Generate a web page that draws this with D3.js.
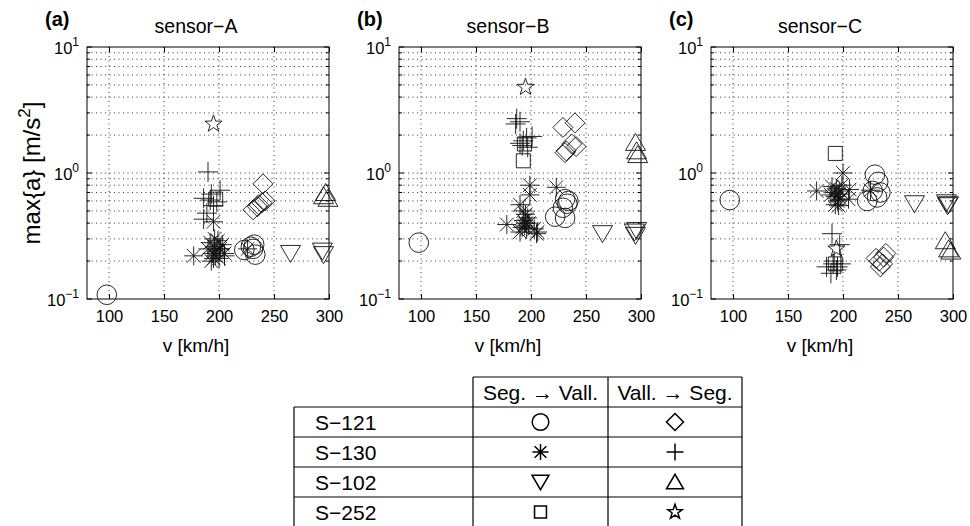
<!DOCTYPE html>
<html>
<head>
<meta charset="utf-8">
<script src="https://cdn.jsdelivr.net/npm/d3@7"></script>
<style>
  body { margin: 0; background: #fff; }
  text { font-family: "Liberation Sans", Arial, Helvetica, sans-serif; fill: #000; }
</style>
</head>
<body>
<svg id="fig" width="970" height="526"></svg>
<script>
// ---- axis settings ----
const speedDomain = [80, 300];
const speedTicks = [100, 150, 200, 250, 300];
const accelDomain = [0.1, 10];
const accelDecades = [0.1, 1, 10];
const accelExponents = ["−1", "0", "1"];

const sensorNames = ["sensor−A", "sensor−B", "sensor−C"];
const panelTags = ["(a)", "(b)", "(c)"];
const trainNames = ["S−121", "S−130", "S−102", "S−252"];
const directionNames = ["Seg. → Vall.", "Vall. → Seg."];
const segToVallShapes = ["circle", "asterisk", "triangleDown", "square"];
const vallToSegShapes = ["diamond", "plus", "triangleUp", "star"];

// ---- measurements: [speed km/h, max acceleration m/s^2] ----
// sensor-A
const aS121sv = [[98,0.108],[223,0.245],[229,0.26],[231,0.25],[233,0.225],[232,0.27]];
const aS130sv = [[177,0.22],[195,0.41],[190,0.25],[192,0.28],[194,0.23],[195,0.21],[196,0.26],[197,0.22],[198,0.24],[199,0.29],[200,0.21],[201,0.25],[203,0.27],[205,0.23],[193,0.2],[226,0.25],[196,0.3]];
const aS102sv = [[265,0.23],[294,0.24],[295,0.225]];
const aS252sv = [[197,0.62]];
const aS121vs = [[240,0.82],[239,0.58],[235,0.54],[231,0.51],[242,0.6],[236,0.56]];
const aS130vs = [[190,1.02],[186,0.63],[192,0.61],[201,0.73],[198,0.59],[189,0.48],[186,0.43],[195,0.55],[193,0.68],[201,0.25],[205,0.22]];
const aS102vs = [[295,0.66],[297,0.7],[299,0.63]];
const aS252vs = [[195,2.45]];
// sensor-B
const bS121sv = [[98,0.28],[222,0.45],[231,0.44],[231,0.62],[233,0.57],[229,0.53],[234,0.6]];
const bS130sv = [[178,0.39],[190,0.34],[190,0.56],[193,0.42],[194,0.38],[195,0.4],[196,0.36],[197,0.44],[192,0.37],[198,0.4],[199,0.67],[199,0.8],[203,0.36],[205,0.33],[206,0.34],[223,0.77],[195,0.47],[193,0.5]];
const bS102sv = [[265,0.33],[294,0.34],[296,0.35],[295,0.32]];
const bS252sv = [[193,1.25],[194,1.7]];
const bS121vs = [[229,2.3],[240,2.5],[232,1.5],[237,1.7],[241,1.62],[231,1.45]];
const bS130vs = [[187,2.7],[186,2.45],[196,1.9],[201,1.95],[190,1.72],[193,1.8],[192,1.65],[197,1.6],[190,2.55]];
const bS102vs = [[295,1.75],[296,1.5],[297,1.4]];
const bS252vs = [[195,4.8]];
// sensor-C
const cS121sv = [[97,0.61],[222,0.6],[229,0.97],[232,0.85],[234,0.7],[231,0.64],[227,0.72]];
const cS130sv = [[176,0.72],[200,1.0],[190,0.78],[192,0.7],[193,0.65],[194,0.75],[195,0.6],[196,0.68],[197,0.72],[198,0.62],[199,0.8],[193,0.56],[205,0.62],[206,0.74],[196,0.55],[225,0.73],[189,0.67]];
const cS102sv = [[265,0.57],[294,0.58],[295,0.55],[296,0.56]];
const cS252sv = [[193,1.43],[193,0.19]];
const cS121vs = [[230,0.21],[239,0.23],[234,0.18],[233,0.2],[237,0.215],[236,0.19]];
const cS130vs = [[190,0.33],[197,0.27],[185,0.18],[191,0.19],[194,0.17],[198,0.19],[189,0.16],[192,0.2],[195,0.18]];
const cS102vs = [[293,0.29],[296,0.25],[298,0.24]];
const cS252vs = [[194,0.25]];

const sensorSeries = [
  { sv: [aS121sv, aS130sv, aS102sv, aS252sv], vs: [aS121vs, aS130vs, aS102vs, aS252vs] },
  { sv: [bS121sv, bS130sv, bS102sv, bS252sv], vs: [bS121vs, bS130vs, bS102vs, bS252vs] },
  { sv: [cS121sv, cS130sv, cS102sv, cS252sv], vs: [cS121vs, cS130vs, cS102vs, cS252vs] }
];

// ---- marker outlines (MATLAB-like) ----
function markerPath(shape, k) {
  const p = d3.path();
  if (shape === "circle") {
    const r = 9.8 * k; p.moveTo(r, 0); p.arc(0, 0, r, 0, 2 * Math.PI);
  } else if (shape === "asterisk") {
    const r = 9.5 * k, d = r * 0.72;
    p.moveTo(-r, 0); p.lineTo(r, 0); p.moveTo(0, -r); p.lineTo(0, r);
    p.moveTo(-d, -d); p.lineTo(d, d); p.moveTo(-d, d); p.lineTo(d, -d);
  } else if (shape === "plus") {
    const r = 10 * k; p.moveTo(-r, 0); p.lineTo(r, 0); p.moveTo(0, -r); p.lineTo(0, r);
  } else if (shape === "diamond") {
    const r = 10 * k; p.moveTo(0, -r); p.lineTo(r, 0); p.lineTo(0, r); p.lineTo(-r, 0); p.closePath();
  } else if (shape === "triangleDown") {
    const w = 10 * k; p.moveTo(-w, -8 * k); p.lineTo(w, -8 * k); p.lineTo(0, 9 * k); p.closePath();
  } else if (shape === "triangleUp") {
    const w = 10 * k; p.moveTo(-w, 8 * k); p.lineTo(w, 8 * k); p.lineTo(0, -9 * k); p.closePath();
  } else if (shape === "square") {
    const r = 7 * k; p.rect(-r, -r, 2 * r, 2 * r);
  } else if (shape === "star") {
    const R = 9 * k, r = R * 0.40;
    for (let i = 0; i < 10; i++) {
      const a = -Math.PI / 2 + i * Math.PI / 5, rr = i % 2 ? r : R;
      const px = rr * Math.cos(a), py = rr * Math.sin(a);
      if (i === 0) p.moveTo(px, py); else p.lineTo(px, py);
    }
    p.closePath();
  }
  return p.toString();
}

const svg = d3.select("#fig");
const panelLefts = [87, 399, 711];
const panelW = 242, plotTop = 47, plotBottom = 299;

panelLefts.forEach((left, i) => {
  const x = d3.scaleLinear().domain(speedDomain).range([left, left + panelW]);
  const y = d3.scaleLog().domain(accelDomain).range([plotBottom, plotTop]);
  const g = svg.append("g");
  const allY = y.ticks();

  // dotted grid
  g.selectAll(".gx").data(speedTicks.filter(v => v < speedDomain[1]))
    .enter().append("line")
    .attr("x1", d => x(d)).attr("x2", d => x(d))
    .attr("y1", plotTop).attr("y2", plotBottom)
    .attr("stroke", "#000").attr("stroke-width", 0.8).attr("stroke-dasharray", "1,3.5");
  g.selectAll(".gy").data(allY.filter(v => v > accelDomain[0] && v < accelDomain[1]))
    .enter().append("line")
    .attr("x1", x(speedDomain[0])).attr("x2", x(speedDomain[1]))
    .attr("y1", d => y(d)).attr("y2", d => y(d))
    .attr("stroke", "#000").attr("stroke-width", 0.8).attr("stroke-dasharray", "1,3.5");

  // bottom axis with inward ticks and labels
  g.append("g").attr("transform", `translate(0,${plotBottom})`)
    .call(d3.axisBottom(x).tickValues(speedTicks).tickSizeInner(-5).tickSizeOuter(0).tickPadding(11))
    .call(a => a.select(".domain").remove())
    .call(a => a.selectAll("text").attr("font-size", 16.5).attr("font-family", null))
    .call(a => a.selectAll("line").attr("stroke", "#000"));
  // top axis ticks
  g.append("g").attr("transform", `translate(0,${plotTop})`)
    .call(d3.axisTop(x).tickValues(speedTicks).tickSizeInner(-5).tickSizeOuter(0).tickFormat(""))
    .call(a => a.select(".domain").remove());

  // log ticks on left and right sides
  g.selectAll(".ty").data(allY).enter().append("path")
    .attr("d", d => {
      const len = accelDecades.includes(d) ? 5 : 3, yy = y(d);
      return `M${x(speedDomain[0])},${yy}h${len}M${x(speedDomain[1])},${yy}h${-len}`;
    })
    .attr("stroke", "#000").attr("stroke-width", 1);

  // decade labels 10^n
  accelDecades.forEach((v, j) => {
    const t = g.append("text")
      .attr("x", left - 8).attr("y", y(v) + 6.5)
      .attr("text-anchor", "end").attr("font-size", 16.5);
    t.append("tspan").text("10");
    t.append("tspan").attr("font-size", 12).attr("dy", -8).text(accelExponents[j]);
  });

  // plot frame
  g.append("rect").attr("x", left).attr("y", plotTop)
    .attr("width", panelW).attr("height", plotBottom - plotTop)
    .attr("fill", "none").attr("stroke", "#000").attr("stroke-width", 1);

  // markers
  const ser = sensorSeries[i];
  const drawSet = (pts, shape) => {
    g.selectAll(null).data(pts).enter().append("path")
      .attr("d", markerPath(shape, 1))
      .attr("transform", d => `translate(${x(d[0])},${y(d[1])})`)
      .attr("fill", "none").attr("stroke", "#111").attr("stroke-width", 0.9);
  };
  ser.sv.forEach((pts, k) => drawSet(pts, segToVallShapes[k]));
  ser.vs.forEach((pts, k) => drawSet(pts, vallToSegShapes[k]));

  // titles and labels
  g.append("text").attr("x", left + panelW / 2 - 12).attr("y", 33)
    .attr("text-anchor", "middle").attr("font-size", 19.5).text(sensorNames[i]);
  g.append("text").attr("x", left - 42).attr("y", 26)
    .attr("font-size", 20).attr("font-weight", "bold").text(panelTags[i]);
  g.append("text").attr("x", left + panelW / 2 - 12).attr("y", 352)
    .attr("text-anchor", "middle").attr("font-size", 19).text("v [km/h]");
});

// y-axis title
const yTitle = svg.append("text")
  .attr("transform", `translate(40,${(plotTop + plotBottom) / 2}) rotate(-90)`)
  .attr("text-anchor", "middle").attr("font-size", 24);
yTitle.append("tspan").text("max{a} [m/s");
yTitle.append("tspan").attr("font-size", 17).attr("dy", -10).text("2");
yTitle.append("tspan").attr("dy", 10).text("]");

// ---- legend table ----
const tbl = svg.append("g");
const colX = [294, 473, 608, 742];
const headTop = 377, rowH = 30, bodyTop = 407;
const line = (x1, y1, x2, y2) => tbl.append("line")
  .attr("x1", x1).attr("y1", y1).attr("x2", x2).attr("y2", y2)
  .attr("stroke", "#000").attr("stroke-width", 1.2);
line(colX[1], headTop, colX[3], headTop);
line(colX[0], bodyTop, colX[0], 526);
[1, 2, 3].forEach(c => line(colX[c], headTop, colX[c], 526));
trainNames.forEach((n, r) => line(colX[0], bodyTop + r * rowH, colX[3], bodyTop + r * rowH));
directionNames.forEach((n, c) => {
  tbl.append("text").attr("x", (colX[c + 1] + colX[c + 2]) / 2).attr("y", headTop + rowH / 2 + 7.5)
    .attr("text-anchor", "middle").attr("font-size", 21).text(n);
});
trainNames.forEach((n, r) => {
  const cy = bodyTop + r * rowH + rowH / 2;
  tbl.append("text").attr("x", 315).attr("y", cy + 7.5).attr("font-size", 21).text(n);
  [segToVallShapes[r], vallToSegShapes[r]].forEach((shape, c) => {
    tbl.append("path").attr("d", markerPath(shape, 0.85))
      .attr("transform", `translate(${(colX[c + 1] + colX[c + 2]) / 2},${cy})`)
      .attr("fill", "none").attr("stroke", "#000").attr("stroke-width", 1.5);
  });
});
</script>
</body>
</html>
